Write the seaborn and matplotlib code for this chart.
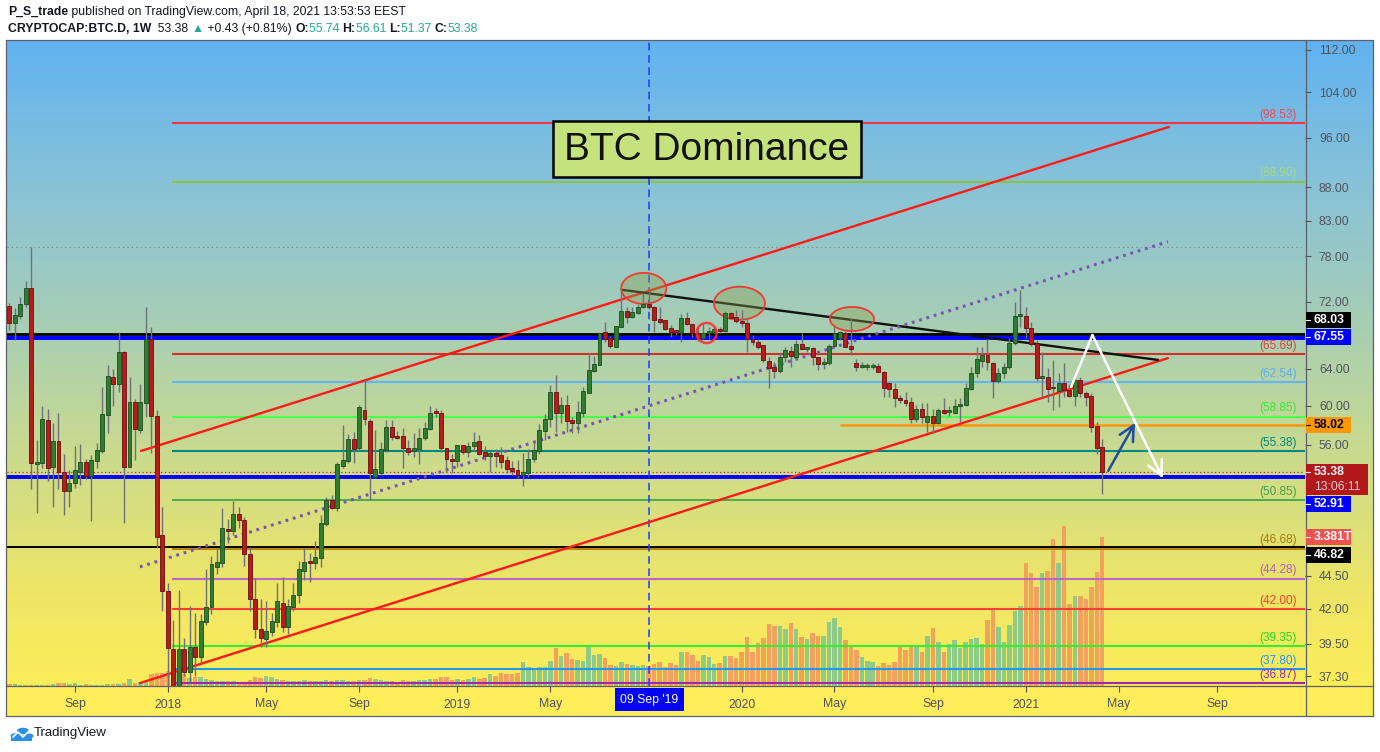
import numpy as np
import pandas as pd
import matplotlib
matplotlib.use("Agg")
import matplotlib.pyplot as plt
from matplotlib.patches import Rectangle, Circle
from matplotlib.lines import Line2D
from matplotlib.ticker import FixedLocator, NullLocator, FixedFormatter
import seaborn as sns

sns.set_theme(style="white")
FONT = ["Liberation Sans", "DejaVu Sans"]
plt.rcParams["font.family"] = FONT

W, H, DPI = 1380, 752, 100

# ------------------------------------------------------------------ data
start_week = "2017-06-12"          # first weekly bar shown
opens = [71.5, 69.4, 70.2, 71.7, 73.7, 54.1, 54.2, 58.5, 53.9, 56.4,
         53.4, 51.6, 52.4, 53.4, 54.3, 53.0, 54.4, 55.4, 59.0, 63.1,
         62.3, 65.9, 53.9, 60.4, 57.5, 60.3, 67.4, 58.9, 47.8, 43.3,
         39.1, 35.5, 39.1, 37.6, 39.3, 38.6, 41.0, 42.1, 45.2, 45.5,
         48.3, 48.1, 49.6, 49.1, 46.2, 42.7, 40.5, 39.8, 40.3, 41.0,
         42.4, 40.7, 42.1, 43.0, 44.9, 45.6, 45.5, 45.9, 48.7, 50.8,
         50.1, 54.0, 54.4, 56.6, 55.7, 59.5, 58.4, 52.9, 53.3, 55.5,
         57.8, 56.8, 56.9, 55.7, 55.4, 55.6, 56.7, 57.6, 59.3, 59.2,
         55.7, 54.6, 54.4, 56.0, 55.3, 55.9, 56.4, 55.3, 54.9, 55.2,
         55.0, 54.5, 53.8, 53.6, 53.1, 53.3, 54.6, 55.4, 57.4, 58.6,
         61.4, 59.2, 60.1, 58.5, 58.2, 59.2, 61.3, 63.8, 64.4, 68.3,
         67.5, 66.5, 68.9, 70.8, 70.1, 70.6, 71.3, 71.7, 71.3, 69.8,
         69.7, 68.8, 68.5, 68.3, 70.0, 69.2, 68.2, 67.6, 68.2, 68.3,
         68.6, 68.4, 70.6, 70.1, 69.5, 69.4, 67.4, 67.1, 66.7, 64.9,
         64.2, 63.8, 65.3, 66.0, 65.3, 66.9, 66.3, 66.4, 65.3, 64.5,
         64.6, 66.6, 67.5, 68.2, 66.6, 64.6, 64.2, 64.2, 64.2, 64.3,
         63.6, 62.4, 61.8, 60.8, 60.6, 60.4, 58.6, 59.6, 58.3, 58.9,
         58.2, 59.5, 59.3, 59.2, 59.9, 60.1, 61.8, 63.5, 64.9, 65.6,
         64.7, 62.6, 63.5, 64.2, 67.0, 70.2, 70.2, 68.8, 67.0, 63.0,
         63.1, 61.9, 61.6, 62.4, 61.7, 61.0, 62.8, 61.3, 61.0, 57.9,
         55.74]
highs = [71.8, 71.2, 72.6, 74.7, 79.3, 56.5, 60.0, 59.6, 58.2, 59.2,
         55.1, 53.6, 55.9, 56.1, 54.6, 55.0, 56.2, 62.0, 64.4, 64.0,
         68.3, 66.0, 63.1, 60.7, 62.3, 71.3, 68.9, 59.5, 50.2, 43.9,
         41.2, 43.4, 39.9, 42.2, 41.7, 41.6, 45.0, 46.1, 46.6, 50.1,
         49.2, 50.7, 50.2, 49.3, 46.8, 44.3, 42.7, 42.6, 41.7, 43.9,
         44.4, 42.7, 43.9, 45.7, 46.7, 46.3, 47.3, 49.5, 51.1, 51.3,
         54.3, 58.0, 57.1, 57.3, 60.1, 62.8, 58.6, 57.5, 56.3, 58.5,
         58.5, 57.4, 57.7, 56.5, 57.2, 57.7, 58.3, 60.0, 59.7, 59.5,
         55.7, 55.1, 56.0, 56.0, 56.3, 57.3, 57.0, 55.9, 55.4, 55.6,
         55.8, 54.9, 54.4, 54.5, 55.2, 55.6, 56.2, 58.1, 59.1, 62.2,
         63.3, 60.9, 61.1, 58.8, 60.5, 62.0, 65.8, 65.5, 68.3, 69.5,
         67.8, 69.0, 73.6, 71.3, 71.3, 71.7, 73.1, 73.2, 71.5, 71.3,
         69.7, 69.1, 68.5, 70.5, 70.7, 69.2, 68.9, 69.2, 68.9, 69.0,
         68.9, 70.8, 70.7, 71.0, 71.0, 69.8, 67.9, 67.4, 66.7, 65.3,
         64.8, 65.8, 66.5, 66.6, 67.3, 68.2, 66.5, 66.5, 65.3, 65.2,
         66.9, 69.0, 68.4, 68.4, 70.0, 65.1, 64.8, 64.6, 64.7, 64.6,
         63.8, 62.5, 62.4, 61.1, 61.4, 60.9, 60.1, 60.3, 60.3, 59.6,
         59.7, 60.8, 59.9, 60.7, 60.8, 62.4, 64.2, 66.5, 66.5, 67.4,
         64.8, 64.1, 64.7, 67.6, 72.0, 73.5, 71.3, 69.5, 67.3, 65.9,
         64.1, 65.0, 63.5, 64.6, 62.3, 63.4, 63.1, 61.6, 61.3, 58.3,
         56.61]
lows = [68.5, 67.3, 69.8, 71.3, 51.8, 49.7, 53.8, 52.6, 50.2, 51.8,
        49.5, 50.2, 51.9, 52.2, 52.7, 49.0, 53.8, 55.2, 57.2, 60.0,
        61.4, 48.8, 53.9, 54.5, 57.2, 58.8, 55.2, 46.7, 41.8, 35.5,
        34.5, 34.8, 37.3, 36.9, 37.3, 38.2, 40.8, 41.6, 44.6, 45.2,
        47.1, 47.8, 48.4, 45.3, 41.8, 39.9, 39.3, 39.3, 40.0, 40.7,
        40.3, 40.2, 41.8, 42.4, 44.2, 44.0, 45.0, 45.2, 48.6, 50.0,
        49.9, 53.8, 54.2, 54.2, 55.4, 58.0, 50.8, 52.8, 53.1, 55.3,
        56.5, 56.6, 53.8, 55.0, 54.8, 54.1, 56.5, 57.5, 58.8, 55.3,
        53.4, 53.3, 53.9, 55.1, 54.8, 55.4, 55.0, 54.5, 53.4, 53.9,
        53.8, 53.3, 53.1, 52.8, 52.1, 52.9, 54.3, 55.1, 56.5, 57.8,
        57.3, 58.2, 57.3, 57.2, 57.2, 58.8, 61.3, 63.6, 64.4, 67.1,
        66.4, 66.5, 68.9, 69.3, 70.0, 70.5, 71.2, 71.1, 68.3, 69.2,
        68.5, 67.7, 67.9, 67.1, 69.1, 67.7, 67.2, 67.4, 67.4, 68.2,
        68.2, 68.3, 70.0, 69.4, 68.9, 65.9, 66.7, 66.3, 64.8, 61.9,
        63.0, 63.5, 64.8, 64.2, 65.0, 66.3, 65.9, 64.4, 63.9, 64.0,
        64.4, 66.5, 67.3, 66.5, 65.6, 63.8, 64.1, 63.9, 64.0, 63.6,
        60.9, 60.9, 59.8, 60.3, 59.9, 58.2, 58.3, 58.2, 57.3, 57.2,
        58.1, 59.1, 58.9, 59.1, 58.3, 60.0, 61.7, 63.1, 64.2, 63.9,
        60.8, 62.4, 63.0, 64.0, 66.7, 68.9, 67.6, 66.6, 62.6, 60.9,
        60.4, 59.5, 59.8, 60.9, 60.9, 59.9, 60.9, 59.9, 57.3, 55.1,
        51.37]
closes = [69.4, 70.3, 71.7, 73.7, 54.2, 54.3, 58.6, 53.8, 56.4, 53.4,
          51.6, 52.4, 53.6, 54.3, 53.0, 54.5, 55.5, 59.1, 63.2, 62.3,
          65.9, 53.9, 60.4, 57.6, 60.4, 67.4, 58.9, 47.6, 43.3, 39.2,
          35.5, 39.1, 37.6, 39.3, 38.6, 41.1, 42.1, 45.4, 45.6, 48.4,
          48.1, 49.6, 49.1, 46.2, 42.7, 40.5, 39.9, 40.4, 41.1, 42.6,
          40.7, 42.2, 43.0, 45.0, 45.6, 45.5, 46.0, 48.8, 50.8, 50.1,
          54.1, 54.5, 56.6, 55.6, 59.8, 58.6, 53.3, 53.7, 55.6, 57.8,
          56.8, 56.7, 55.7, 55.3, 55.7, 56.7, 57.7, 59.2, 59.2, 55.7,
          54.6, 54.4, 56.0, 55.3, 55.9, 56.3, 55.1, 54.9, 55.2, 54.9,
          54.3, 53.7, 53.5, 53.1, 53.4, 54.6, 55.5, 57.5, 58.6, 61.4,
          59.2, 60.1, 58.4, 58.2, 59.3, 61.6, 63.9, 64.5, 68.2, 67.4,
          66.6, 69.0, 70.8, 70.1, 70.7, 71.3, 71.7, 71.3, 69.7, 69.5,
          68.6, 68.3, 68.3, 70.0, 69.2, 68.2, 67.6, 68.2, 68.4, 68.6,
          68.4, 70.6, 70.0, 69.6, 69.4, 67.4, 67.1, 66.5, 65.0, 64.1,
          63.8, 65.3, 66.1, 65.5, 66.9, 66.3, 66.35, 65.3, 64.5, 64.8,
          66.6, 68.2, 68.3, 66.5, 66.3, 64.2, 64.4, 64.25, 64.3, 63.6,
          61.9, 61.8, 60.8, 60.6, 60.3, 58.6, 59.6, 58.8, 58.9, 58.2,
          59.5, 59.2, 59.35, 59.9, 60.2, 61.9, 63.5, 65.1, 65.6, 64.8,
          62.6, 63.5, 64.2, 67.0, 70.2, 70.25, 68.8, 66.9, 63.0, 63.1,
          61.8, 61.85, 62.4, 61.7, 61.0, 62.8, 61.3, 60.9, 57.8, 55.7,
          53.38]
volumes_T = [0.05, 0.05, 0.03, 0.03, 0.03, 0.03, 0.03, 0.03, 0.05, 0.07,
             0.07, 0.05, 0.07, 0.03, 0.05, 0.03, 0.03, 0.03, 0.05, 0.05,
             0.05, 0.07, 0.16, 0.07, 0.09, 0.09, 0.27, 0.30, 0.30, 0.34,
             0.41, 0.30, 0.27, 0.18, 0.20, 0.20, 0.16, 0.14, 0.11, 0.11,
             0.11, 0.11, 0.09, 0.09, 0.14, 0.20, 0.18, 0.22, 0.20, 0.16,
             0.14, 0.11, 0.11, 0.12, 0.14, 0.11, 0.11, 0.12, 0.14, 0.11,
             0.14, 0.14, 0.11, 0.11, 0.14, 0.14, 0.18, 0.16, 0.14, 0.11,
             0.11, 0.09, 0.14, 0.11, 0.11, 0.14, 0.14, 0.16, 0.16, 0.20,
             0.20, 0.14, 0.16, 0.14, 0.16, 0.20, 0.16, 0.19, 0.27, 0.23,
             0.30, 0.27, 0.27, 0.29, 0.54, 0.43, 0.38, 0.43, 0.43, 0.57,
             0.86, 0.68, 0.75, 0.61, 0.59, 0.57, 0.88, 0.70, 0.73, 0.64,
             0.48, 0.45, 0.54, 0.50, 0.48, 0.45, 0.48, 0.45, 0.50, 0.54,
             0.43, 0.52, 0.48, 0.77, 0.77, 0.70, 0.57, 0.70, 0.66, 0.50,
             0.52, 0.68, 0.68, 0.64, 0.77, 1.11, 0.77, 0.98, 1.09, 1.41,
             1.36, 1.36, 1.29, 1.43, 1.29, 1.11, 1.07, 1.20, 1.13, 1.13,
             1.45, 1.54, 1.34, 1.04, 0.93, 0.82, 0.66, 0.57, 0.54, 0.45,
             0.52, 0.48, 0.54, 0.91, 0.82, 0.93, 0.91, 0.77, 1.13, 1.32,
             1.00, 0.77, 0.95, 1.04, 0.86, 1.00, 1.07, 1.09, 0.95, 1.50,
             1.73, 1.34, 1.00, 1.38, 1.70, 1.82, 2.79, 2.56, 2.25, 2.56,
             2.61, 3.34, 2.79, 3.63, 1.86, 2.04, 2.04, 1.97, 2.25, 2.59,
             3.381]
assert len(opens) == len(highs) == len(lows) == len(closes) == len(volumes_T) == 201

# horizontal levels drawn by the author
fib_values = [98.53, 88.90, 65.69, 62.54, 58.85, 55.38, 50.85, 46.68, 44.28, 42.00, 39.35, 37.80, 36.87]
fib_colors = ["#f23645", "#8bc34a", "#d32f2f", "#64b5f6", "#4dff4d", "#00897b", "#4caf50",
              "#b8860b", "#ba68c8", "#f44336", "#33ee33", "#2196f3", "#9c27b0"]
fib_label_colors = ["#f04a55", "#a3d98a", "#d84040", "#5eaef0", "#3ae83a", "#00897b", "#43a047",
                    "#a67c12", "#b55fc4", "#f44336", "#22dd22", "#2196f3", "#9c27b0"]
support_black = [68.03, 46.82]
support_blue = [67.55, 52.91]
orange_level = 58.02
last_price = closes[-1]
last_volume = volumes_T[-1]

# trendlines: (week index, dominance %)
upper_channel = ([24.1, 212.2], [55.4, 97.85])
lower_channel = ([23.9, 212.0], [36.86, 65.2])
dotted_trend = ([23.9, 212.0], [45.2, 80.0])
down_trend = ([112.2, 210.2], [73.5, 65.0])
white_path = ([194.3, 198.2, 211.1], [62.0, 67.9, 52.8])
blue_arrow = ([201.1, 206.0], [53.5, 58.2])
marked_week = "2019-09-09"
# ellipses: centre week, centre value, half-width (weeks), half-height (log units)
ellipses = [(116.1, 73.7, 4.12, 0.0272), (133.6, 71.8, 4.67, 0.029), (154.2, 69.84, 4.03, 0.0211)]
ring = (127.6, 68.15, 1.83, 0.0176)

x_tick_months = ["2017-09", "2018-01", "2018-05", "2018-09", "2019-01", "2019-05",
                 "2020-01", "2020-05", "2020-09", "2021-01", "2021-05", "2021-09"]
x_tick_labels = ["Sep", "2018", "May", "Sep", "2019", "May",
                 "2020", "May", "Sep", "2021", "May", "Sep"]
y_ticks = [112, 104, 96, 88, 83, 78, 72, 64, 60, 56, 44.5, 42, 39.5, 37.3]

# ------------------------------------------------------------------ layout
def fx(px):
    return px / W


def fy(py):
    return 1 - py / H


PL, PR, PT, PB = 7, 1305, 40, 686      # plot pane in pixels
FR = 1373                               # right edge of price scale
XMIN, XMAX = -0.42, 237.1
YMIN, YMAX = 36.67, 113.98
VOL_TOP = 14.66

fig = plt.figure(figsize=(W / DPI, H / DPI), dpi=DPI)
fig.patch.set_facecolor("white")

# gradient background (chart pane + price scale)
grad_ax = fig.add_axes([fx(PL - 1), fy(PB), (FR - PL + 1) / W, (PB - PT) / H], zorder=0)
stop_pos = [0.0, 0.25, 0.45, 0.65, 0.85, 1.0]
stop_col = [(0.38, 0.70, 0.95), (0.55, 0.77, 0.83), (0.66, 0.81, 0.70),
            (0.80, 0.86, 0.55), (0.93, 0.90, 0.40), (0.99, 0.93, 0.35)]
pos = np.linspace(0, 1, 500)
img = np.stack([np.interp(pos, stop_pos, [c[k] for c in stop_col]) for k in range(3)], axis=-1)[:, None, :]
grad_ax.imshow(img, aspect="auto", extent=[0, 1, 1, 0], interpolation="bilinear")
grad_ax.axis("off")

# time scale strip
fig.add_artist(Rectangle((fx(PL - 1), fy(716)), (FR - PL + 1) / W, (716 - PB) / H,
                         transform=fig.transFigure, facecolor="#ffed5a", edgecolor="none", zorder=0.2))

rect = [fx(PL), fy(PB), (PR - PL) / W, (PB - PT) / H]
vol_ax = fig.add_axes(rect, zorder=1)
vol_ax.set_facecolor("none")
vol_ax.axis("off")
ax = fig.add_axes(rect, zorder=2)
ax.set_facecolor("none")

n = len(closes)
x = np.arange(n)
o = np.array(opens); h = np.array(highs); l = np.array(lows); c = np.array(closes)
up = c >= o

# volume
vol_ax.bar(x, volumes_T, width=0.82, color=np.where(up, "#8fca86", "#f3a25e"), linewidth=0)
vol_ax.set_xlim(XMIN, XMAX)
vol_ax.set_ylim(0, VOL_TOP)

# axes scales
ax.set_yscale("log")
ax.set_xlim(XMIN, XMAX)
ax.set_ylim(YMIN, YMAX)
for s in ax.spines.values():
    s.set_visible(False)

# horizontal levels
ax.axhline(max(highs), color="#7d8088", lw=0.8, ls=(0, (1, 3)), zorder=2)
FIB_START = 29.8
for v, col in zip(fib_values, fib_colors):
    ax.hlines(v, FIB_START, XMAX, color=col, lw=1.5, zorder=2.2)
for v, col in zip(fib_values, fib_label_colors):
    ax.annotate(f"({v:.2f})", xy=(0.9938, v), xycoords=("axes fraction", "data"),
                xytext=(0, 1.5), textcoords="offset points", ha="right", va="bottom",
                fontsize=8.5, color=col, zorder=6)
ax.hlines(orange_level, 152.0, XMAX, color="#ff9800", lw=1.8, zorder=2.3)
ax.axhline(support_black[0], color="black", lw=2.0, zorder=2.4)
ax.axhline(support_black[1], color="black", lw=1.4, zorder=2.4)
for v in support_blue:
    ax.axhline(v, color="#0000ff", lw=2.8, zorder=2.5)
ax.axhline(last_price, color="#c62828", lw=0.9, ls=(0, (1, 2)), zorder=2.6)

# vertical marker
marked_idx = (pd.Timestamp(marked_week) - pd.Timestamp(start_week)).days / 7
ax.axvline(marked_idx, color="#1c3cff", lw=1.1, ls=(0, (5, 3)), zorder=2.6)

# trendlines (seaborn)
sns.lineplot(x=upper_channel[0], y=upper_channel[1], ax=ax, color="#ff1a1a", lw=1.7, zorder=3)
sns.lineplot(x=lower_channel[0], y=lower_channel[1], ax=ax, color="#ff1a1a", lw=1.7, zorder=3)
sns.lineplot(x=down_trend[0], y=down_trend[1], ax=ax, color="#111111", lw=1.7, zorder=3)
ax.plot(dotted_trend[0], dotted_trend[1], color="#7a52b3", lw=2.2, ls=(0, (0.9, 1.6)),
        dash_capstyle="butt", zorder=3)

# ellipses
t = np.linspace(0, 2 * np.pi, 200)
for cx, cy, a, b in ellipses:
    ax.fill(cx + a * np.cos(t), np.exp(np.log(cy) + b * np.sin(t)),
            facecolor=(0.55, 0.62, 0.30, 0.38), edgecolor="#f03a30", lw=1.3, zorder=3.2)
cx, cy, a, b = ring
ax.plot(cx + a * np.cos(t), np.exp(np.log(cy) + b * np.sin(t)), color="#ff2a2a", lw=1.8,
        alpha=0.85, zorder=5.5)

# candles
ax.vlines(x, l, h, color="#6f7079", lw=1.0, zorder=4)
body_lo = np.minimum(o, c)
body_h = np.maximum(np.abs(c - o), c * 0.003)
ax.bar(x, body_h, bottom=body_lo, width=0.72,
       color=np.where(up, "#2e7d32", "#b71c1c"),
       edgecolor=np.where(up, "#1b4d1e", "#6d0c0c"), linewidth=0.6, zorder=5)

# projection arrows
ax.plot(white_path[0][:2], white_path[1][:2], color="white", lw=1.8, zorder=6)
ax.annotate("", xy=(white_path[0][2], white_path[1][2]), xytext=(white_path[0][1], white_path[1][1]),
            arrowprops=dict(arrowstyle="->,head_length=0.9,head_width=0.45", color="white", lw=1.8,
                            shrinkA=0, shrinkB=0), zorder=6)
ax.annotate("", xy=(blue_arrow[0][1], blue_arrow[1][1]), xytext=(blue_arrow[0][0], blue_arrow[1][0]),
            arrowprops=dict(arrowstyle="->,head_length=0.9,head_width=0.45", color="#1f4e9e", lw=1.8,
                            shrinkA=0, shrinkB=0), zorder=6)

# axis ticks
AXC = "#50535e"
ax.yaxis.tick_right()
ax.yaxis.set_major_locator(FixedLocator(y_ticks))
ax.yaxis.set_minor_locator(NullLocator())
ax.yaxis.set_major_formatter(FixedFormatter([f"{v:.2f}" for v in y_ticks]))
ax.tick_params(axis="y", which="major", length=4, width=0.8, color=AXC, labelcolor=AXC,
               labelsize=8.8, pad=6, direction="out", right=True, left=False)
ax.tick_params(axis="y", which="minor", length=0)

start = pd.Timestamp(start_week)
xt = []
for m in x_tick_months:
    d = pd.Timestamp(m + "-01")
    d = d + pd.Timedelta(days=(7 - d.weekday()) % 7)
    xt.append((d - start).days / 7)
ax.set_xticks(xt)
ax.set_xticklabels(x_tick_labels)
ax.tick_params(axis="x", length=4, width=0.8, color=AXC, labelcolor=AXC, labelsize=8.8,
               pad=5, direction="out", bottom=True)

# frame lines
def fline(x0, y0, x1, y1, color="#5d606b", lw=0.9, z=7):
    fig.add_artist(Line2D([fx(x0), fx(x1)], [fy(y0), fy(y1)], transform=fig.transFigure,
                          color=color, lw=lw, zorder=z))


fline(PL - 1, PT, FR, PT)
fline(PL - 1, PT, PL - 1, 716)
fline(FR, PT, FR, 716)
fline(PL - 1, 716, FR, 716)
fline(PL - 1, PB, FR, PB)
fline(PR + 1, PT, PR + 1, 716)

# price labels on the scale
fig.canvas.draw()


def ypx(v, axis=ax):
    return H - axis.transData.transform((0, v))[1]


def price_box(yc, text, fc, tc, w=45, hgt=16, weight="bold", z=8):
    fig.add_artist(Rectangle((fx(PR + 1), fy(yc + hgt / 2)), w / W, hgt / H, transform=fig.transFigure,
                             facecolor=fc, edgecolor="none", zorder=z))
    fig.add_artist(Line2D([fx(PR + 1), fx(PR + 5)], [fy(yc), fy(yc)], transform=fig.transFigure,
                          color=tc, lw=0.8, zorder=z + 0.1))
    fig.text(fx(PR + 9), fy(yc), text, color=tc, fontsize=8.8, fontweight=weight,
             va="center", ha="left", zorder=z + 0.2)


price_box(ypx(support_black[0]) - 14, f"{support_black[0]:.2f}", "black", "white")
price_box(ypx(support_blue[0]) - 1, f"{support_blue[0]:.2f}", "#0000ff", "white")
price_box(ypx(orange_level), f"{orange_level:.2f}", "#ff9800", "black")
# last price box (two rows)
yl = ypx(last_price)
fig.add_artist(Rectangle((fx(PR + 1), fy(yl + 23)), 62 / W, 31 / H, transform=fig.transFigure,
                         facecolor="#b2181b", edgecolor="none", zorder=8))
fig.add_artist(Line2D([fx(PR + 1), fx(PR + 5)], [fy(yl), fy(yl)], transform=fig.transFigure,
                      color="white", lw=0.8, zorder=8.1))
fig.text(fx(PR + 9), fy(yl), f"{last_price:.2f}", color="white", fontsize=8.8, fontweight="bold",
         va="center", ha="left", zorder=8.2)
fig.text(fx(PR + 9), fy(yl + 15), "13:06:11", color="#f3cccc", fontsize=8.8,
         va="center", ha="left", zorder=8.2)
price_box(ypx(support_blue[1]) + 27, f"{support_blue[1]:.2f}", "#0000ff", "white")
price_box(ypx(last_volume, vol_ax), f"{last_volume:.3f}T", "#ef5350", "white")
price_box(ypx(support_black[1]) + 8, f"{support_black[1]:.2f}", "black", "white")

# time label box for the marked week
mx = ax.transData.transform((marked_idx, 50))[0]
fig.add_artist(Rectangle((fx(mx - 34), fy(711)), 69 / W, 23 / H, transform=fig.transFigure,
                         facecolor="#0000ff", edgecolor="none", zorder=8))
fig.text(fx(mx + 0.5), fy(700), "09 Sep '19", color="white", fontsize=8.8, ha="center",
         va="center", zorder=8.2)

# title box
fig.add_artist(Rectangle((fx(553), fy(177)), 308 / W, 56 / H, transform=fig.transFigure,
                         facecolor="#c6e27c", edgecolor="black", lw=1.8, zorder=8))
fig.text(fx(707), fy(150), "BTC Dominance", fontsize=28, color="#111111", ha="center",
         va="center", zorder=8.2)

# header
renderer = fig.canvas.get_renderer()


def runs(x0, yc, parts, size=8.8):
    xx = x0
    for txt, col, wt in parts:
        tt = fig.text(fx(xx), fy(yc), txt, color=col, fontsize=size, fontweight=wt,
                      ha="left", va="center", family=FONT, zorder=9)
        xx += tt.get_window_extent(renderer=renderer).width


DK = "#131722"
TEAL = "#26a69a"
runs(8, 12, [("P_S_trade", DK, "bold"),
             (" published on TradingView.com, April 18, 2021 13:53:53 EEST", DK, "normal")])
runs(8, 29, [("CRYPTOCAP:BTC.D, 1W", DK, "bold"), (f"  {closes[-1]:.2f} ", DK, "normal"),
             ("\u25B2", TEAL, "normal"), (" +0.43 (+0.81%) ", DK, "normal"),
             ("O:", DK, "bold"), (f"{opens[-1]:.2f} ", TEAL, "normal"),
             ("H:", DK, "bold"), (f"{highs[-1]:.2f} ", TEAL, "normal"),
             ("L:", DK, "bold"), (f"{lows[-1]:.2f} ", TEAL, "normal"),
             ("C:", DK, "bold"), (f"{closes[-1]:.2f}", TEAL, "normal")])

# TradingView logo
logo_col = "#2a8fe8"
for (cxp, cyp, r) in [(16, 736, 5.5), (23, 731, 6), (29, 736, 4.5)]:
    fig.add_artist(Circle((fx(cxp), fy(cyp)), r / W, transform=fig.transFigure,
                          facecolor=logo_col, edgecolor="none", zorder=9))
fig.add_artist(Rectangle((fx(11), fy(741)), 21 / W, 6 / H, transform=fig.transFigure,
                         facecolor=logo_col, edgecolor="none", zorder=9))
fig.add_artist(Line2D([fx(13), fx(18), fx(23), fx(30)], [fy(737), fy(732), fy(737), fy(730)],
                      transform=fig.transFigure, color="white", lw=1.2, zorder=9.5))
fig.text(fx(34), fy(733), "TradingView", fontsize=9.5, color="#131722", ha="left", va="center", zorder=9)

fig.savefig("out.png", dpi=DPI)
